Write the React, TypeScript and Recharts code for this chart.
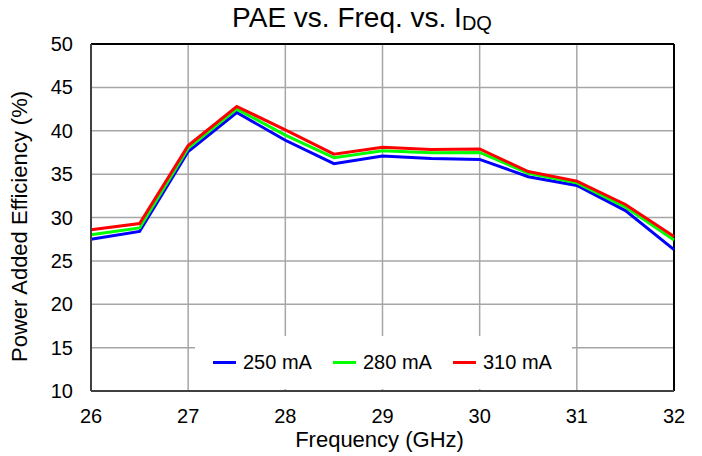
import React from 'react';
import { LineChart, Line, XAxis, YAxis, CartesianGrid, Legend, ReferenceLine } from 'recharts';

const freqs = [26, 26.5, 27, 27.5, 28, 28.5, 29, 29.5, 30, 30.5, 31, 31.5, 32];
const pae250 = [27.5, 28.4, 37.6, 42.1, 38.9, 36.2, 37.1, 36.8, 36.7, 34.7, 33.7, 30.8, 26.3];
const pae280 = [28.0, 28.8, 38.0, 42.5, 39.5, 36.9, 37.7, 37.45, 37.5, 35.1, 34.0, 31.2, 27.4];
const pae310 = [28.6, 29.3, 38.3, 42.8, 40.1, 37.3, 38.1, 37.85, 37.9, 35.3, 34.2, 31.5, 27.8];
const xTicks = [26, 27, 28, 29, 30, 31, 32];
const yTicks = [10, 15, 20, 25, 30, 35, 40, 45, 50];
const seriesNames = ['250 mA', '280 mA', '310 mA'];
const seriesColors = ['#0000ff', '#00ff00', '#ff0000'];
const seriesKeys = ['a', 'b', 'c'];

const data = freqs.map((f, i) => ({ f, a: pae250[i], b: pae280[i], c: pae310[i] }));

const FONT = '"Liberation Sans", Arial, sans-serif';

const LegendBox = () => (
  <div style={{ position: 'relative', width: 377, height: 53, background: '#fff' }}>
    {seriesNames.map((n, i) => (
      <div key={n} style={{ position: 'absolute', left: 18 + i * 120, top: 14, display: 'flex', alignItems: 'center', fontFamily: FONT, fontSize: 20, color: '#000', whiteSpace: 'nowrap', lineHeight: '24px' }}>
        <span style={{ display: 'inline-block', width: 23, height: 3, background: seriesColors[i], marginRight: 7 }} />
        <span>{n}</span>
      </div>
    ))}
  </div>
);

export default function App() {
  return (
    <div style={{ position: 'absolute', left: 0, top: 0, width: 702, height: 456, background: '#fff' }}>
      <div style={{ position: 'absolute', left: 0, width: 724, top: 2, textAlign: 'center', fontFamily: FONT, fontSize: 28, color: '#000', zIndex: 2 }}>
        PAE vs. Freq. vs. I<span style={{ fontSize: 20, position: 'relative', top: 3 }}>DQ</span>
      </div>
      <LineChart width={702} height={456} data={data} margin={{ top: 44, right: 28, left: 0, bottom: 0 }} style={{ fontFamily: FONT }}>
        <CartesianGrid stroke="#a6a6a6" strokeWidth={1.5} />
        <XAxis
          dataKey="f"
          type="number"
          domain={[26, 32]}
          ticks={xTicks}
          height={65}
          tickLine={false}
          tickSize={16}
          tick={{ fill: '#000', fontSize: 20 }}
          axisLine={{ stroke: '#404040', strokeWidth: 2 }}
          label={{
            content: (p: any) => {
              const vb = p.viewBox;
              return (
                <text x={vb.x + vb.width / 2 - 3} y={vb.y + 56} textAnchor="middle" fontSize={22} fill="#000" fontFamily={FONT}>
                  Frequency (GHz)
                </text>
              );
            },
          }}
        />
        <YAxis
          type="number"
          domain={[10, 50]}
          ticks={yTicks}
          width={91}
          tickLine={false}
          tickSize={16}
          tick={{ fill: '#000', fontSize: 20 }}
          axisLine={{ stroke: '#404040', strokeWidth: 2 }}
          label={{
            content: (p: any) => {
              const vb = p.viewBox;
              const cx = 19;
              const cy = vb.y + vb.height / 2 + 9;
              return (
                <text x={cx} y={cy} transform={`rotate(-90 ${cx} ${cy})`} textAnchor="middle" dominantBaseline="central" fontSize={22} fill="#000" fontFamily={FONT}>
                  Power Added Efficiency (%)
                </text>
              );
            },
          }}
        />
        <ReferenceLine y={50} stroke="#000" strokeWidth={2} />
        <ReferenceLine x={32} stroke="#000" strokeWidth={2} />
        {seriesKeys.map((k, i) => (
          <Line key={k} type="linear" dataKey={k} name={seriesNames[i]} stroke={seriesColors[i]} strokeWidth={3} dot={false} isAnimationActive={false} />
        ))}
        <Legend
          layout="horizontal"
          verticalAlign="middle"
          align="center"
          content={() => <LegendBox />}
          wrapperStyle={{ position: 'absolute', left: 195, top: 336, width: 377, height: 53, bottom: 'auto', right: 'auto' }}
        />
      </LineChart>
    </div>
  );
}
